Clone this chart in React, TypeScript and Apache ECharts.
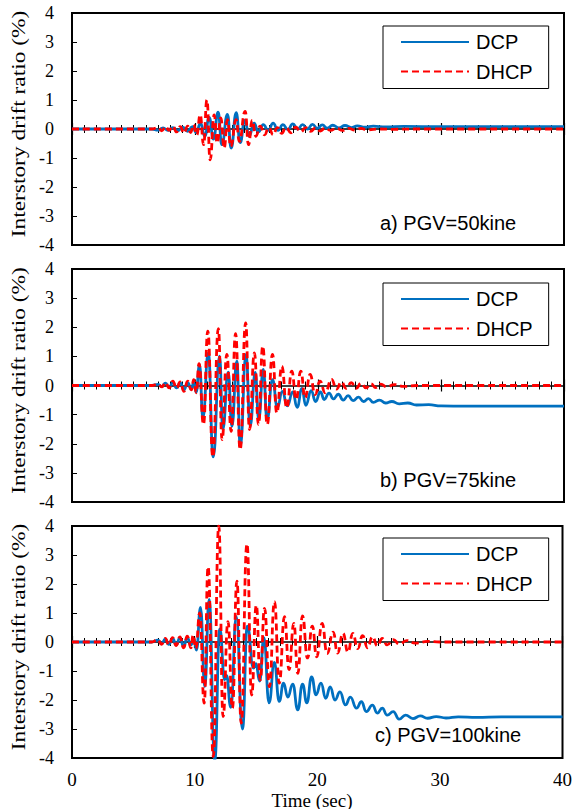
import React, { useEffect, useRef } from "react";
import * as echarts from "echarts";

// ---------- data: [time (sec), drift ratio (%)] ----------
const SERIES_NAMES = ["DCP", "DHCP"];
const PANEL_LABELS = ["a) PGV=50kine", "b) PGV=75kine", "c) PGV=100kine"];
const Y_TITLE = "Interstory drift ratio (%)";
const X_TITLE = "Time (sec)";

const dcpA: [number, number][] = [
  [0, 0], [6.5, 0], [7.0, -0.04], [7.4, 0.04], [7.8, -0.05], [8.2, 0.05], [8.6, -0.06], [9.0, 0.06],
  [9.4, -0.08], [9.8, 0.08], [10.1, -0.12], [10.45, 0.2], [10.8, -0.25], [11.15, 0.4], [11.5, -0.35],
  [11.88, 0.58], [12.18, -0.54], [12.64, 0.5], [12.94, -0.66], [13.35, 0.56], [13.67, -0.47], [14.05, 0.3],
  [14.4, -0.25], [14.8, 0.2], [15.15, -0.1], [15.55, 0.15], [15.95, -0.05], [16.35, 0.2], [16.75, -0.05],
  [17.15, 0.15], [17.55, -0.02], [17.95, 0.18], [18.35, 0.0], [18.75, 0.15], [19.15, 0.0], [19.55, 0.16],
  [19.95, 0.02], [20.35, 0.14], [20.75, 0.03], [21.2, 0.13], [21.7, 0.04], [22.2, 0.12], [22.7, 0.05],
  [23.2, 0.11], [23.8, 0.06], [24.5, 0.1], [25.5, 0.07], [27, 0.09], [30, 0.08], [40, 0.08],
];

const dhcpA: [number, number][] = [
  [0, 0], [6.5, 0], [7.0, 0.05], [7.3, -0.06], [7.6, 0.08], [7.9, -0.05], [8.2, 0.1], [8.5, -0.1],
  [8.8, 0.08], [9.1, -0.14], [9.4, 0.1], [9.65, -0.12], [9.88, 0.15], [10.15, -0.2], [10.42, 0.49],
  [10.7, -0.54], [10.97, 1.0], [11.23, -1.06], [11.56, 0.49], [11.8, -0.48], [12.1, 0.38], [12.37, -0.66],
  [12.64, 0.32], [12.9, -0.6], [13.35, 0.32], [13.6, -0.43], [14.08, 0.61], [14.35, -0.54], [14.65, 0.3],
  [14.95, -0.25], [15.3, 0.1], [15.65, -0.2], [16.0, 0.05], [16.35, -0.2], [16.7, 0.05], [17.05, -0.15],
  [17.4, 0.06], [17.8, -0.13], [18.2, 0.06], [18.6, -0.1], [19.0, 0.05], [19.4, -0.08], [19.8, 0.04],
  [20.2, -0.07], [20.6, 0.04], [21.0, -0.05], [21.5, 0.03], [22.0, -0.05], [22.5, 0.02], [23.0, -0.04],
  [23.5, 0.02], [24.0, -0.03], [25, 0], [26, -0.01], [28, 0], [40, 0],
];

const dcpB: [number, number][] = [
  [0, 0], [6.5, 0], [7.0, 0.04], [7.3, -0.04], [7.6, 0.08], [7.9, -0.06], [8.2, 0.1], [8.5, -0.08],
  [8.8, 0.1], [9.1, -0.15], [9.4, 0.1], [9.7, -0.12], [9.9, 0.1], [10.1, -0.22], [10.37, 0.72],
  [10.64, -1.11], [11.08, 1.12], [11.48, -2.45], [12.0, 1.01], [12.26, -1.51], [12.7, 0.46], [13.0, -1.4],
  [13.4, 0.84], [13.68, -2.09], [14.15, 1.07], [14.48, -1.4], [14.9, 0.45], [15.18, -1.17], [15.55, 0.55],
  [15.86, -1.17], [16.3, 0.2], [16.7, -0.75], [17.1, -0.2], [17.5, -0.7], [17.95, -0.22], [18.3, -0.75],
  [18.7, -0.1], [19.0, -0.68], [19.45, -0.18], [19.8, -0.55], [20.2, -0.22], [20.5, -0.48], [20.9, -0.26],
  [21.25, -0.46], [21.65, -0.3], [22.05, -0.5], [22.45, -0.35], [22.85, -0.52], [23.3, -0.4], [23.7, -0.55],
  [24.1, -0.45], [24.5, -0.58], [25.0, -0.5], [25.5, -0.6], [26.0, -0.55], [26.6, -0.63], [27.3, -0.6],
  [28.0, -0.67], [29, -0.66], [30, -0.7], [32, -0.71], [35, -0.71], [40, -0.71],
];

const dhcpB: [number, number][] = [
  [0, 0], [6.5, 0], [7.0, 0.05], [7.3, -0.05], [7.6, 0.1], [7.9, -0.08], [8.2, 0.15], [8.5, -0.1],
  [8.8, 0.12], [9.1, -0.2], [9.4, 0.15], [9.7, -0.15], [9.9, 0.2], [10.1, -0.25], [10.33, 0.75],
  [10.69, -1.34], [11.04, 1.87], [11.45, -2.45], [11.9, 1.95], [12.2, -1.86], [12.59, 1.07], [12.94, -1.57],
  [13.3, 1.78], [13.67, -2.2], [14.12, 2.15], [14.43, -1.51], [14.83, 1.12], [15.16, -1.34], [15.51, 1.35],
  [15.87, -1.34], [16.3, 1.07], [16.65, -0.94], [17.06, 0.66], [17.46, -0.77], [17.87, 0.49], [18.22, -0.48],
  [18.6, 0.49], [18.95, -0.42], [19.36, 0.38], [19.76, -0.31], [20.17, 0.15], [20.58, -0.25], [21.1, 0.21],
  [21.5, -0.12], [21.9, 0.12], [22.3, -0.1], [22.7, 0.1], [23.1, -0.1], [23.5, 0.08], [23.9, -0.08],
  [24.3, 0.06], [24.7, -0.07], [25.1, 0.05], [25.6, -0.05], [26.2, 0.03], [27, -0.03], [28, 0], [40, 0],
];

const dcpC: [number, number][] = [
  [0, 0], [6.5, 0], [7.0, 0.06], [7.3, -0.06], [7.6, 0.1], [7.9, -0.08], [8.2, 0.12], [8.5, -0.1],
  [8.8, 0.15], [9.1, -0.15], [9.4, 0.15], [9.7, -0.1], [9.95, 0.1], [10.15, -0.28], [10.48, 1.19],
  [10.83, -1.54], [11.18, 1.47], [11.64, -4.1], [12.05, 0.45], [12.45, -1.3], [12.6, -1.15], [12.95, -2.25],
  [13.4, 0.87], [13.9, -3.0], [14.3, 0.55], [14.8, -0.9], [15.0, -0.75], [15.3, -1.35], [15.65, 0.15],
  [16.07, -2.1], [16.5, -0.7], [16.9, -2.05], [17.25, -1.42], [17.6, -1.9], [18.0, -1.45], [18.41, -2.34],
  [18.8, -1.45], [19.15, -2.1], [19.54, -1.2], [19.9, -1.82], [20.3, -1.42], [20.7, -1.94], [21.05, -1.55],
  [21.45, -2.0], [21.85, -1.72], [22.3, -2.17], [22.7, -1.9], [23.2, -2.28], [23.6, -2.06], [24.0, -2.4],
  [24.5, -2.18], [24.9, -2.45], [25.3, -2.28], [25.7, -2.52], [26.2, -2.4], [26.67, -2.66], [27.2, -2.52],
  [27.8, -2.64], [28.4, -2.55], [29.0, -2.63], [29.7, -2.57], [30.5, -2.62], [31.5, -2.58], [33, -2.6],
  [35, -2.58], [40, -2.58],
];

const dhcpC: [number, number][] = [
  [0, 0], [6.5, 0], [7.0, 0.08], [7.3, -0.08], [7.6, 0.12], [7.9, -0.1], [8.2, 0.15], [8.5, -0.12],
  [8.8, 0.18], [9.1, -0.2], [9.4, 0.2], [9.7, -0.2], [9.88, 0.24], [10.1, -0.22], [10.42, 1.0],
  [10.78, -2.11], [11.1, 2.59], [11.52, -3.95], [11.97, 4.0], [12.32, -2.57], [12.72, 0.7], [13.08, -2.28],
  [13.45, 2.1], [13.8, -2.8], [14.27, 3.38], [14.65, -1.83], [15.03, 1.27], [15.35, -1.31], [15.7, 1.16],
  [16.1, -1.54], [16.51, 1.39], [16.9, -1.42], [17.33, 0.87], [17.7, -0.95], [18.09, 0.64], [18.41, -1.08],
  [18.8, 0.9], [19.2, -0.55], [19.6, 0.55], [19.95, -0.51], [20.4, 0.64], [20.8, -0.4], [21.3, 0.34],
  [21.65, -0.38], [22.1, 0.3], [22.5, -0.35], [22.9, 0.3], [23.3, -0.23], [23.7, 0.22], [24.1, -0.2],
  [24.5, 0.18], [24.9, -0.13], [25.3, 0.12], [25.7, -0.1], [26.2, 0.08], [26.7, -0.07], [27.3, 0.05],
  [28, -0.04], [29, 0.02], [30, 0], [40, 0],
];

const PANEL_DATA = [
  [dcpA, dhcpA],
  [dcpB, dhcpB],
  [dcpC, dhcpC],
];

// ---------- layout / style ----------
const W = 575;
const H = 809;
const GRIDS = [
  { top: 13, height: 232 },
  { top: 269, height: 233 },
  { top: 526, height: 232 },
];
const LEGEND_TOPS = [26, 283, 538];
const LABEL_Y = [223, 480, 735];
const LABEL_X = [380, 380, 375];
const BLUE = "#0070C0";
const RED = "#FF0000";
const SERIF = "Liberation Serif";
const SANS = "Liberation Sans";

export default function App() {
  const ref = useRef<HTMLDivElement>(null);

  useEffect(() => {
    document.body.style.margin = "0";
    if (!ref.current) return;
    const chart = echarts.init(ref.current, undefined, { renderer: "svg" });

    const xAxis: any[] = [];
    const yAxis: any[] = [];
    const series: any[] = [];

    GRIDS.forEach((g, p) => {
      const half = g.height / 2;
      xAxis.push({
        gridIndex: p,
        type: "value",
        min: 0,
        max: 40,
        interval: 10,
        position: "bottom",
        axisLine: { show: false, onZero: false },
        axisTick: { show: false },
        splitLine: { show: false },
        axisLabel: { show: p === 2, fontFamily: SERIF, fontSize: 19, color: "#000", margin: 12 },
      });
      xAxis.push({
        gridIndex: p,
        type: "value",
        min: 0,
        max: 40,
        interval: 10,
        position: "bottom",
        offset: -half,
        axisLine: { show: true, onZero: false, lineStyle: { color: "#000", width: 1.5 } },
        axisTick: { show: true, inside: true, length: 6, lineStyle: { color: "#000", width: 1.2 } },
        minorTick: { show: true, splitNumber: 10, length: 4, lineStyle: { color: "#000", width: 1 } },
        axisLabel: { show: false },
        splitLine: { show: false },
      });
      xAxis.push({
        gridIndex: p,
        type: "value",
        min: 0,
        max: 40,
        interval: 10,
        position: "top",
        offset: -half,
        axisLine: { show: false, onZero: false },
        axisTick: { show: true, inside: true, length: 6, lineStyle: { color: "#000", width: 1.2 } },
        minorTick: { show: true, splitNumber: 10, length: 4, lineStyle: { color: "#000", width: 1 } },
        axisLabel: { show: false },
        splitLine: { show: false },
      });
      yAxis.push({
        gridIndex: p,
        type: "value",
        min: -4,
        max: 4,
        interval: 1,
        axisLine: { show: false, onZero: false },
        axisTick: { show: true, inside: true, length: 5, lineStyle: { color: "#000", width: 1 } },
        axisLabel: { fontFamily: SERIF, fontSize: 18, color: "#000", margin: 18 },
        splitLine: { show: false },
      });
      PANEL_DATA[p].forEach((d, k) => {
        series.push({
          name: SERIES_NAMES[k],
          type: "line",
          xAxisIndex: p * 3,
          yAxisIndex: p,
          data: d,
          symbol: "none",
          showSymbol: false,
          smooth: 0.5,
          smoothMonotone: "x",
          clip: true,
          z: 2 + k,
          lineStyle: k === 0
            ? { color: BLUE, width: 2.8, type: "solid" }
            : { color: RED, width: 2.8, type: [7, 4] },
          itemStyle: { color: k === 0 ? BLUE : RED },
        });
      });
    });

    const graphic: any[] = [];
    GRIDS.forEach((g, p) => {
      graphic.push({
        type: "text",
        x: LABEL_X[p],
        y: LABEL_Y[p],
        style: { text: PANEL_LABELS[p], fontFamily: SANS, fontSize: 20, fill: "#000", verticalAlign: "middle", align: "left" },
      });
      graphic.push({
        type: "text",
        x: 19,
        y: g.top + g.height / 2 - 5,
        rotation: Math.PI / 2,
        scaleX: 1.3,
        style: { text: Y_TITLE, fontFamily: SERIF, fontSize: 18, fill: "#000", align: "center", verticalAlign: "middle" },
      });
    });
    graphic.push({
      type: "text",
      x: 312,
      y: 800,
      style: { text: X_TITLE, fontFamily: SERIF, fontSize: 19, fill: "#000", align: "center", verticalAlign: "middle" },
    });

    chart.setOption({
      animation: false,
      backgroundColor: "#fff",
      grid: GRIDS.map((g) => ({
        left: 72,
        right: 11,
        top: g.top,
        height: g.height,
        show: true,
        borderColor: "#000",
        borderWidth: 2,
        backgroundColor: "transparent",
      })),
      xAxis,
      yAxis,
      legend: LEGEND_TOPS.map((top) => ({
        orient: "vertical",
        left: 383,
        top,
        data: SERIES_NAMES,
        itemWidth: 68,
        itemHeight: 20,
        itemGap: 9.5,
        padding: [6, 16, 7, 17],
        borderColor: "#000",
        borderWidth: 1,
        borderRadius: 0,
        selectedMode: false,
        itemStyle: { opacity: 0 },
        textStyle: { fontFamily: SANS, fontSize: 20, color: "#000", padding: [0, 0, 0, 2] },
      })),
      graphic,
      series,
    });

    return () => chart.dispose();
  }, []);

  return <div ref={ref} style={{ width: W, height: H }} />;
}
